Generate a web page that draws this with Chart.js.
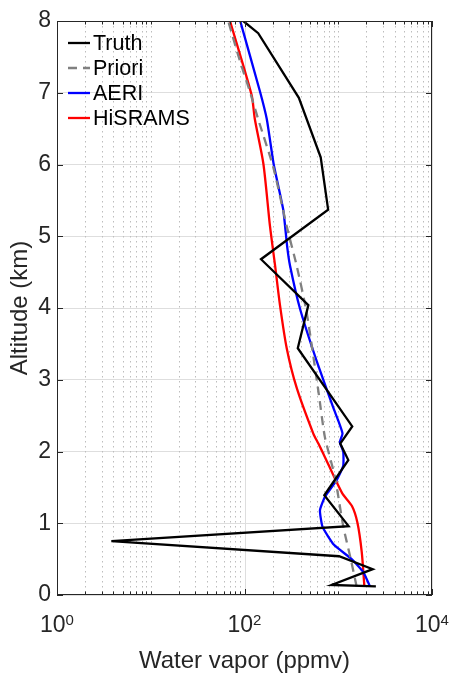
<!DOCTYPE html>
<html>
<head>
<meta charset="utf-8">
<script src="https://cdn.jsdelivr.net/npm/chart.js@4.4.0/dist/chart.umd.min.js"></script>
<style>
  html, body { margin: 0; padding: 0; background: #fff; }
</style>
</head>
<body>
<canvas id="canvas" width="453" height="675"></canvas>
<script>
// profiles: altitude (km) and water vapor (ppmv)
const truthAlt = [0.12, 0.14, 0.36, 0.54, 0.75, 0.96, 1.39, 1.88, 2.11, 2.35, 3.44, 4.04, 4.68, 5.37, 6.10, 6.93, 7.83, 8.0];
const truthWv  = [2520, 850, 2330, 1020, 3.8, 1290, 710, 1280, 1050, 1410, 370, 480, 150, 780, 650, 380, 140, 97];

const prioriAlt = [0.12, 0.5, 0.96, 1.65, 2.2, 2.84, 3.94, 4.59, 5.14, 5.96, 6.63, 7.02, 7.43, 8.0];
const prioriWv  = [1570, 1360, 1130, 920, 720, 614, 460, 360, 282, 203, 140, 114, 90, 67];

const aeriAlt = [0.12, 0.32, 0.5, 0.7, 0.95, 1.18, 1.37, 1.6, 1.8, 2.0, 2.13, 2.25, 2.43, 2.61, 3.26, 3.99, 4.59, 4.86, 5.37, 6.0, 6.63, 7.02, 8.0];
const aeriWv  = [2180, 1850, 1390, 900, 680, 638, 722, 962, 1130, 1130, 1040, 1110, 1000, 885, 589, 391, 306, 285, 259, 205, 173, 146, 90];

const hisramsAlt = [0.12, 0.6, 1.01, 1.24, 1.42, 1.97, 2.11, 2.25, 2.89, 3.44, 4.04, 4.59, 5.14, 6.01, 6.63, 6.97, 8.0];
const hisramsWv  = [1900, 1780, 1600, 1400, 1100, 693, 614, 542, 360, 282, 239, 212, 187, 159, 129, 119, 70];

const seriesNames = ['Truth', 'Priori', 'AERI', 'HiSRAMS'];

const xTickValues = [1, 100, 10000];
const xTickExps = ['0', '2', '4'];
const yTickValues = [0, 1, 2, 3, 4, 5, 6, 7, 8];

const xTitle = 'Water vapor (ppmv)';
const yTitle = 'Altitude (km)';

function toPoints(alt, wv) {
  return alt.map((a, i) => ({ x: wv[i], y: a }));
}

const FONT = '"Liberation Sans", Arial, Helvetica, sans-serif';
const AXIS_COLOR = '#262626';

// grid, box, ticks, labels and legend drawn the matlab way
const decor = {
  id: 'decor',
  beforeDatasetsDraw(chart) {
    const c = chart.ctx, a = chart.chartArea, xs = chart.scales.x;
    c.save();
    // minor dotted grid
    c.strokeStyle = '#bdbdbd';
    c.lineWidth = 1;
    c.setLineDash([1.5, 3.5]);
    for (let e = 1; e < 10000; e *= 10) {
      for (let m = 1; m < 10; m++) {
        const v = m * e;
        if (xTickValues.includes(v)) continue;
        const px = Math.round(xs.getPixelForValue(v)) + 0.5;
        c.beginPath(); c.moveTo(px, a.top); c.lineTo(px, a.bottom); c.stroke();
      }
    }
    // major solid grid
    c.setLineDash([]);
    c.strokeStyle = '#dedede';
    xTickValues.forEach(v => {
      const px = Math.round(xs.getPixelForValue(v)) + 0.5;
      c.beginPath(); c.moveTo(px, a.top); c.lineTo(px, a.bottom); c.stroke();
    });
    c.restore();
  },
  afterDatasetsDraw(chart) {
    const c = chart.ctx, a = chart.chartArea, xs = chart.scales.x, ys = chart.scales.y;
    c.save();
    c.strokeStyle = AXIS_COLOR;
    c.lineWidth = 1;
    c.strokeRect(Math.round(a.left) + 0.5, Math.round(a.top) + 0.5,
                 Math.round(a.right - a.left) - 1, Math.round(a.bottom - a.top) - 1);
    // x ticks (inward, bottom and top)
    for (let e = 1; e <= 10000; e *= 10) {
      for (let m = 1; m < 10; m++) {
        const v = m * e;
        if (v > 10000) break;
        const len = xTickValues.includes(v) ? 6 : 3.5;
        const px = Math.round(xs.getPixelForValue(v)) + 0.5;
        c.beginPath();
        c.moveTo(px, a.bottom); c.lineTo(px, a.bottom - len);
        c.moveTo(px, a.top); c.lineTo(px, a.top + len);
        c.stroke();
      }
    }
    // y ticks (inward, left and right)
    yTickValues.forEach(v => {
      const py = Math.round(ys.getPixelForValue(v)) + 0.5;
      c.beginPath();
      c.moveTo(a.left, py); c.lineTo(a.left + 6, py);
      c.moveTo(a.right, py); c.lineTo(a.right - 6, py);
      c.stroke();
    });
    // tick labels
    c.fillStyle = AXIS_COLOR;
    c.textBaseline = 'alphabetic';
    xTickValues.forEach((v, i) => {
      const px = xs.getPixelForValue(v);
      c.font = '23px ' + FONT;
      const wb = c.measureText('10').width;
      c.font = '15px ' + FONT;
      const we = c.measureText(xTickExps[i]).width;
      const x0 = px - (wb + we) / 2;
      c.font = '23px ' + FONT;
      c.textAlign = 'left';
      c.fillText('10', x0, 632);
      c.font = '15px ' + FONT;
      c.fillText(xTickExps[i], x0 + wb, 625);
    });
    c.font = '23px ' + FONT;
    c.textAlign = 'right';
    c.textBaseline = 'middle';
    yTickValues.forEach(v => {
      c.fillText(String(v), a.left - 6, ys.getPixelForValue(v));
    });
    // axis titles
    c.font = '24px ' + FONT;
    c.textAlign = 'center';
    c.textBaseline = 'alphabetic';
    c.fillText(xTitle, (a.left + a.right) / 2, 668);
    c.translate(27, (a.top + a.bottom) / 2);
    c.rotate(-Math.PI / 2);
    c.fillText(yTitle, 0, 0);
    c.restore();

    // legend (no box, transparent)
    c.save();
    c.font = '21.5px ' + FONT;
    c.textAlign = 'left';
    c.textBaseline = 'middle';
    chart.data.datasets.forEach((ds, i) => {
      const y = 43 + i * 25;
      c.strokeStyle = ds.borderColor;
      c.lineWidth = ds.borderWidth;
      c.setLineDash(ds.borderDash || []);
      c.beginPath(); c.moveTo(68, y); c.lineTo(90, y); c.stroke();
      c.setLineDash([]);
      c.fillStyle = '#000';
      c.fillText(ds.label, 93, y + 1);
    });
    c.restore();
  }
};

const ctx = document.getElementById('canvas').getContext('2d');
const myChart = new Chart(ctx, {
  type: 'scatter',
  data: {
    datasets: [
      { label: seriesNames[0], data: toPoints(truthAlt, truthWv), borderColor: '#000000', borderWidth: 2.3, tension: 0 },
      { label: seriesNames[1], data: toPoints(prioriAlt, prioriWv), borderColor: '#808080', borderWidth: 2.3, borderDash: [9, 6], tension: 0.2 },
      { label: seriesNames[2], data: toPoints(aeriAlt, aeriWv), borderColor: '#0000ff', borderWidth: 2.3, tension: 0.15 },
      { label: seriesNames[3], data: toPoints(hisramsAlt, hisramsWv), borderColor: '#ff0000', borderWidth: 2.3, tension: 0.25 }
    ].map(ds => Object.assign(ds, { showLine: true, pointRadius: 0, fill: false }))
  },
  options: {
    responsive: false,
    animation: false,
    layout: { padding: { left: 57, top: 21, right: 21, bottom: 72 } },
    plugins: { legend: { display: false }, tooltip: { enabled: false } },
    scales: {
      x: {
        type: 'logarithmic', min: 1, max: 10000,
        ticks: { display: false },
        grid: { display: false },
        border: { display: false }
      },
      y: {
        type: 'linear', min: 0, max: 8,
        ticks: { display: false, stepSize: 1 },
        grid: { color: '#dedede', drawTicks: false },
        border: { display: false }
      }
    }
  },
  plugins: [decor]
});
</script>
</body>
</html>
